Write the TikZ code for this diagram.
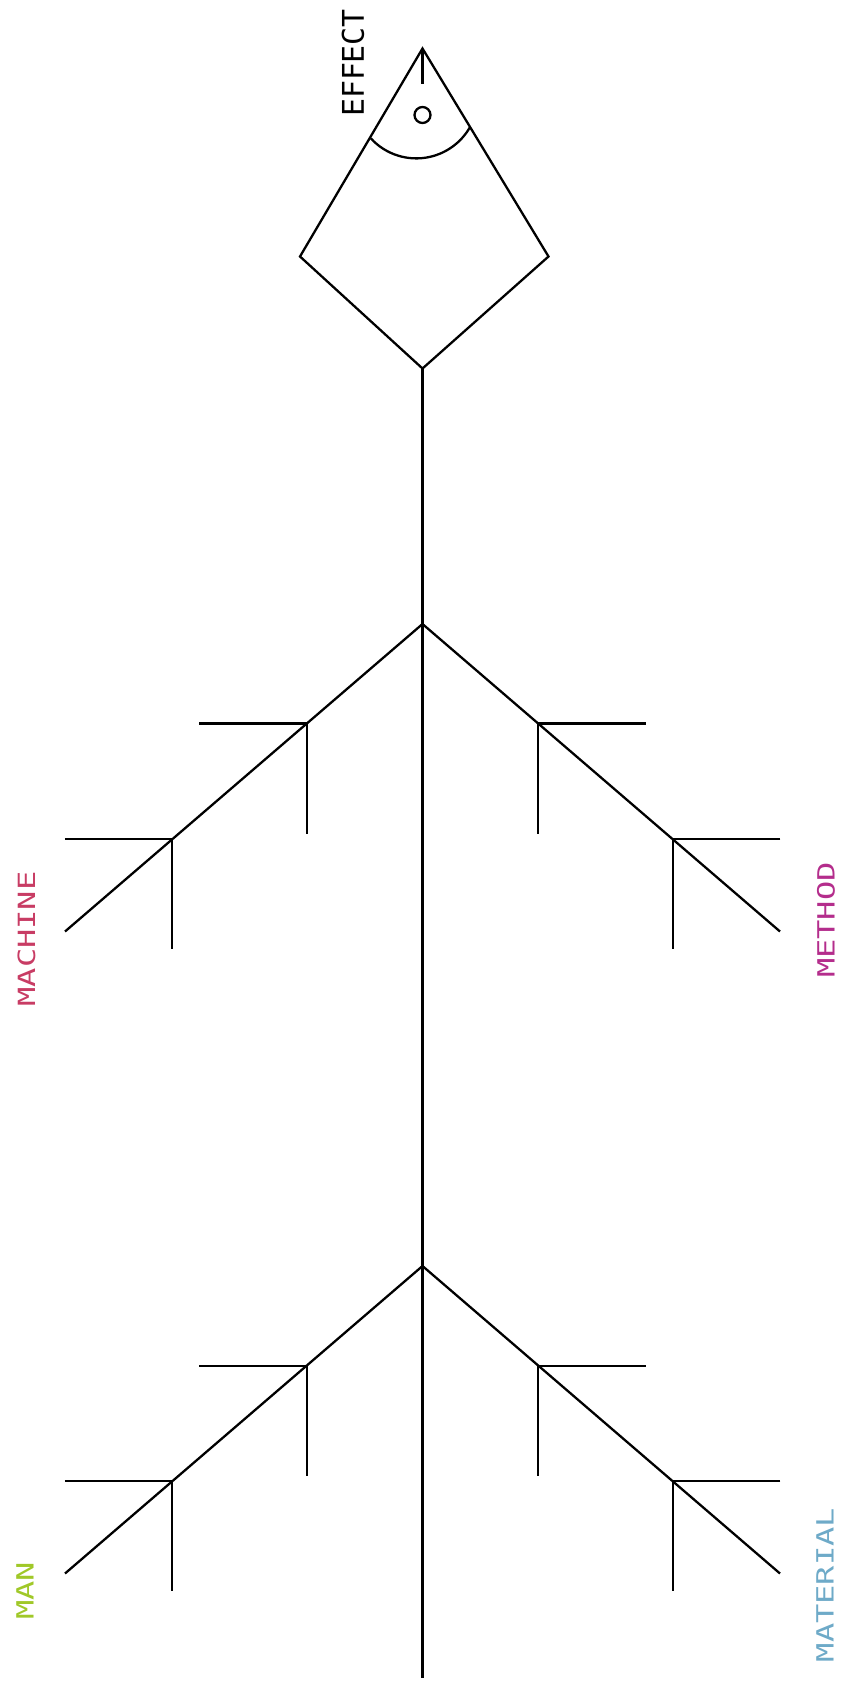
\documentclass[tikz,border=0pt]{standalone}
\usepackage{fontspec}
\setmonofont{DejaVu Sans Mono}
\usepackage{graphicx}
\usepackage{tikz}
\usetikzlibrary{calc}
\definecolor{fbInk}{HTML}{000000}
\definecolor{fbMachine}{HTML}{C83C64}
\definecolor{fbMethod}{HTML}{B42D8C}
\definecolor{fbMan}{HTML}{A0C828}
\definecolor{fbMaterial}{HTML}{6EAAC8}
\newcommand{\widelbl}[1]{\scalebox{1.35}[1]{#1}}

\begin{document}
\begin{tikzpicture}[
  bone/.style={draw=fbInk, line width=1.3pt, line join=miter},
  cause/.style={rotate=90, inner sep=0pt, font=\ttfamily\fontsize{13.5}{13.5}\selectfont},
  effectlbl/.style={rotate=90, inner sep=0pt, font=\ttfamily\fontsize{17}{17}\selectfont}]
\useasboundingbox (0,0) rectangle (17.06,-33.74);
% head and spine
\coordinate (tip)   at (8.45,-0.97);
\coordinate (headL) at (6.00,-5.13);
\coordinate (headR) at (10.97,-5.13);
\coordinate (headB) at (8.45,-7.37);
\coordinate (spineEnd) at (8.45,-33.56);
\coordinate (jUp)  at (8.45,-12.48);
\coordinate (jLow) at (8.45,-25.32);
\draw[bone] (tip) -- (headL) -- (headB) -- (headR) -- cycle;
\draw[bone] (tip) -- ++(0,-0.70);
\draw[bone] (8.45,-2.30) circle (0.16);
\draw[bone] (8.326,-1.934) ++(222.4:1.234) arc[start angle=222.4, end angle=330.3, radius=1.234];
\draw[bone] (headB) -- (spineEnd);
% bones
\foreach \j in {jUp,jLow}{
  \foreach \s in {-1,1}{
    \draw[bone] (\j) -- ++(\s*7.15,-6.15);
    \foreach \f in {0.324,0.70}{
      \coordinate (br) at ($(\j)+\f*(\s*7.15,-6.15)$);
      \draw[bone] ($(br)+(\s*2.15,0)$) -- (br) -- ++(0,-2.2);
    }
  }
}
% labels
\node[effectlbl] (effect) at (7.06,-1.26) {EFFECT};
\node[cause, text=fbMachine]  (machine)  at (0.53,-18.78) {\widelbl{MACHINE}};
\node[cause, text=fbMethod]   (method)   at (16.52,-18.40) {\widelbl{METHOD}};
\node[cause, text=fbMan]      (man)      at (0.50,-31.82) {\widelbl{MAN}};
\node[cause, text=fbMaterial] (material) at (16.50,-31.70) {\widelbl{MATERIAL}};
\end{tikzpicture}
\end{document}
